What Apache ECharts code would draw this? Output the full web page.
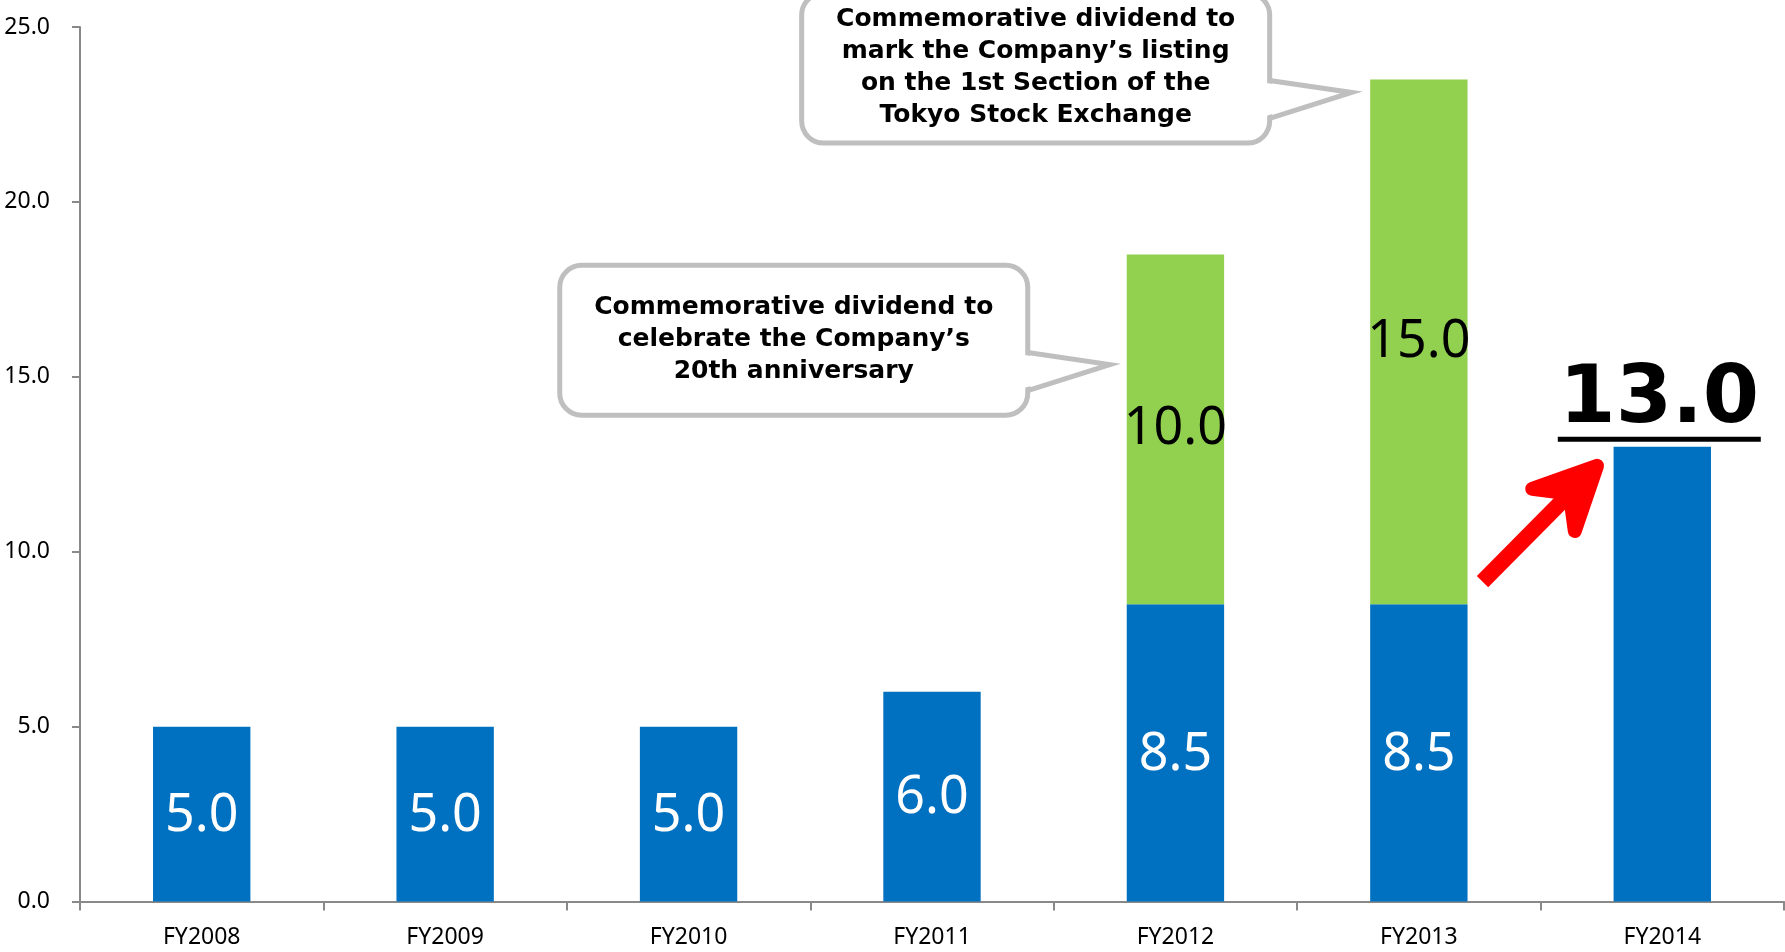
<!DOCTYPE html>
<html>
<head>
<meta charset="utf-8">
<title>Dividend per share</title>
<script src="https://cdn.jsdelivr.net/npm/echarts@6/dist/echarts.min.js"></script>
<style>
  html, body { margin: 0; padding: 0; background: #ffffff; }
  #chart { width: 1785px; height: 952px; }
</style>
</head>
<body>
<div id="chart"></div>
<script>
// Fiscal years on the category axis
const categories = ['FY2008', 'FY2009', 'FY2010', 'FY2011', 'FY2012', 'FY2013', 'FY2014'];
// Ordinary dividend per share (yen)
const ordinaryDividend = [5.0, 5.0, 5.0, 6.0, 8.5, 8.5, 13.0];
// Commemorative dividend per share (yen), stacked on the ordinary one
const commemorativeDividend = [null, null, null, null, 10.0, 15.0, null];
// Value axis range and step
const yMin = 0;
const yMax = 25;
const yStep = 5;
// Year whose total is called out in large type
const highlightYear = 'FY2014';
// Speech-bubble notes next to the commemorative segments
const calloutYears = ['FY2012', 'FY2013'];
const calloutTexts = [
  ['Commemorative dividend to', 'celebrate the Company\u2019s', '20th anniversary'],
  ['Commemorative dividend to', 'mark the Company\u2019s listing', 'on the 1st Section of the', 'Tokyo Stock Exchange']
];

const BLUE = '#0070C0';
const GREEN = '#92D050';
const AXIS_GREY = '#898989';
const LABEL_FONT = 'Noto Sans';

const chart = echarts.init(document.getElementById('chart'), null, { renderer: 'canvas' });

const isHighlight = i => categories[i] === highlightYear;

const option = {
  animation: false,
  backgroundColor: '#ffffff',
  grid: { left: 80, right: 1, top: 27, bottom: 50.4, outerBoundsMode: 'none' },
  xAxis: {
    type: 'category',
    data: categories,
    axisLine: { show: true, lineStyle: { color: AXIS_GREY, width: 2 } },
    axisTick: { show: true, length: 9, lineStyle: { color: AXIS_GREY, width: 2 } },
    axisLabel: { color: '#000000', fontSize: 23, fontFamily: LABEL_FONT, margin: 24 }
  },
  yAxis: {
    type: 'value',
    min: yMin,
    max: yMax,
    interval: yStep,
    splitLine: { show: false },
    axisLine: { show: true, lineStyle: { color: AXIS_GREY, width: 2 } },
    axisTick: { show: true, length: 8, lineStyle: { color: AXIS_GREY, width: 2 } },
    axisLabel: {
      color: '#000000', fontSize: 23, fontFamily: LABEL_FONT, margin: 30,
      padding: [4, 0, 0, 0],
      formatter: v => v.toFixed(1)
    }
  },
  series: [
    {
      name: 'Ordinary dividend',
      type: 'bar',
      stack: 'dividend',
      barWidth: '40%',
      itemStyle: { color: BLUE },
      data: ordinaryDividend.map((v, i) =>
        isHighlight(i) ? { value: v, label: { position: 'top', distance: 5, offset: [-3, 0] } } : v),
      label: {
        show: true,
        position: 'inside',
        color: '#ffffff',
        fontSize: 52,
        fontFamily: LABEL_FONT,
        padding: [4, 0, 0, 0],
        formatter: p => isHighlight(p.dataIndex)
          ? '{v|' + p.value.toFixed(1) + '}\n{u|}'
          : p.value.toFixed(1),
        rich: {
          v: {
            fontSize: 81, fontWeight: 'bold', fontFamily: 'DejaVu Sans',
            color: '#000000', lineHeight: 72, align: 'center'
          },
          u: { width: 203, height: 5, lineHeight: 5, backgroundColor: '#000000', align: 'center' }
        }
      }
    },
    {
      name: 'Commemorative dividend',
      type: 'bar',
      stack: 'dividend',
      barWidth: '40%',
      itemStyle: { color: GREEN },
      data: commemorativeDividend,
      label: {
        show: true,
        position: 'inside',
        color: '#000000',
        fontSize: 52,
        fontFamily: LABEL_FONT,
        padding: [5, 0, 0, 0],
        formatter: p => p.value.toFixed(1)
      }
    }
  ]
};

chart.setOption(option);

// ---- annotations: speech bubbles and the red arrow, placed from the axes ----
const toPx = (i, v) => chart.convertToPixel({ gridIndex: 0 }, [i, v]);
const catWidth = toPx(1, 0)[0] - toPx(0, 0)[0];
const halfBar = catWidth * 0.4 / 2;
const barLeft = i => toPx(i, 0)[0] - halfBar;

// pointer tips of the bubbles: value on the axis and pixel offset from the bar's left edge
const calloutAnchors = [
  { value: 15.35, dx: -17 },
  { value: 23.13, dx: -18.5 }
];

const graphics = [];
const BUBBLE_W = 468, BUBBLE_H = 150, BUBBLE_R = 22, BUBBLE_GAP = 82;
const BUBBLE_STROKE = '#BFBFBF';

calloutYears.forEach((year, k) => {
  const idx = categories.indexOf(year);
  const a = calloutAnchors[k];
  const tipX = barLeft(idx) + a.dx;
  const tipY = toPx(idx, a.value)[1];
  const right = tipX - BUBBLE_GAP;
  const left = right - BUBBLE_W;
  const bottom = tipY + 50.7;
  const top = bottom - BUBBLE_H;
  const b1 = tipY - 12, b2 = tipY + 26;

  graphics.push({
    type: 'rect', z: 10,
    shape: { x: left, y: top, width: BUBBLE_W, height: BUBBLE_H, r: BUBBLE_R },
    style: { fill: '#ffffff', stroke: BUBBLE_STROKE, lineWidth: 5 }
  });
  graphics.push({
    type: 'polygon', z: 11,
    shape: { points: [[right - 4, b1 + 2.5], [tipX - 4, tipY], [right - 4, b2 - 2.5]] },
    style: { fill: '#ffffff', stroke: null }
  });
  graphics.push({
    type: 'polyline', z: 12,
    shape: { points: [[right, b1], [tipX, tipY], [right, b2]] },
    style: { fill: null, stroke: BUBBLE_STROKE, lineWidth: 5, lineJoin: 'miter' }
  });
  graphics.push({
    type: 'text', z: 13,
    style: {
      text: calloutTexts[k].join('\n'),
      x: (left + right) / 2,
      y: (top + bottom) / 2 - 1,
      fill: '#000000',
      font: 'bold 25px "DejaVu Sans"',
      lineHeight: 32,
      textAlign: 'center',
      textVerticalAlign: 'middle'
    }
  });
});

// red arrow pointing at the top of the highlighted bar
const hIdx = categories.indexOf(highlightYear);
const hTop = toPx(hIdx, ordinaryDividend[hIdx])[1];
const tip = [barLeft(hIdx) - 11.6, hTop + 14];
const ux = 0.703, uy = -0.711, nx = 0.711, ny = 0.703;
const P = (a, b) => [tip[0] + a * ux + b * nx, tip[1] + a * uy + b * ny];
const RED = '#FF0000';
graphics.push({
  type: 'line', z: 10,
  shape: { x1: P(-170, 0)[0], y1: P(-170, 0)[1], x2: P(-46, 0)[0], y2: P(-46, 0)[1] },
  style: { stroke: RED, lineWidth: 16, lineCap: 'butt' }
});
graphics.push({
  type: 'polygon', z: 11,
  shape: { points: [P(-7, 0), P(-69, -30), P(-46, 0), P(-69, 30)] },
  style: { fill: RED, stroke: RED, lineWidth: 14, lineJoin: 'round' }
});

chart.setOption({ graphic: graphics });
</script>
</body>
</html>
